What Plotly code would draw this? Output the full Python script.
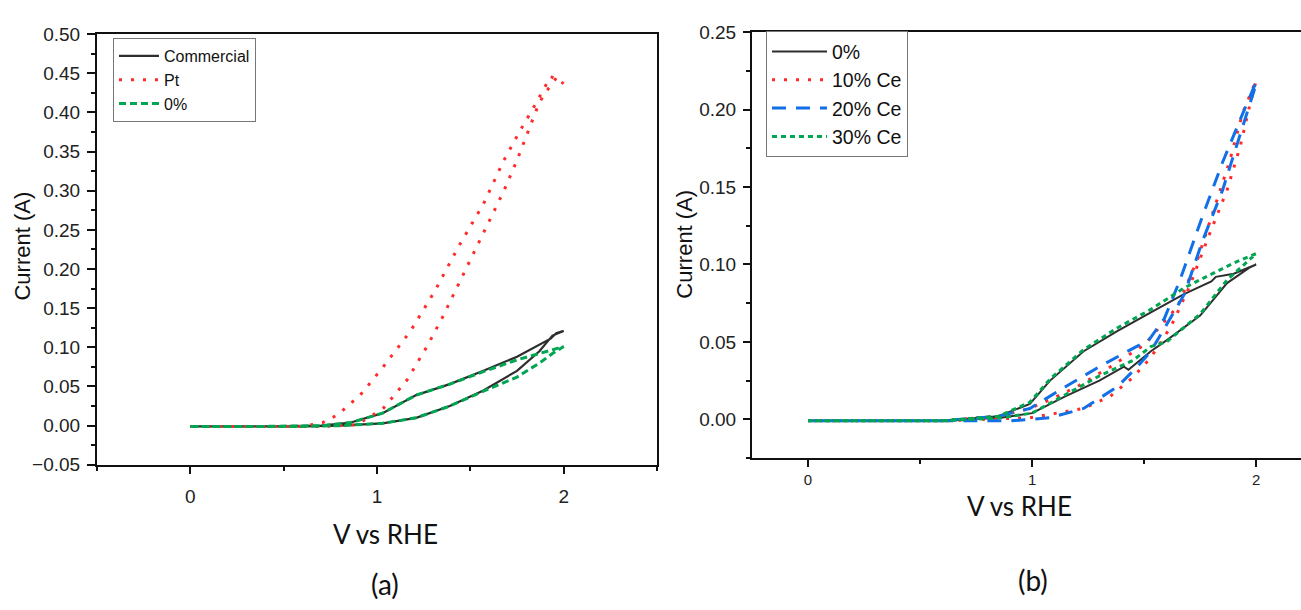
import plotly.graph_objects as go

# ---------------- Panel (a) data ----------------
# Commercial: forward (lower) branch then reverse (upper) branch
comm_fwd_v = [0.0, 0.3, 0.6, 0.8, 0.9, 1.03, 1.21, 1.39, 1.57, 1.75, 1.87, 1.94, 2.0]
comm_fwd_i = [-0.001, -0.001, -0.001, 0.0, 0.001, 0.003, 0.010, 0.025, 0.045, 0.070, 0.095, 0.115, 0.121]
comm_rev_v = [2.0, 1.96, 1.93, 1.75, 1.57, 1.39, 1.21, 1.03, 0.86, 0.7, 0.4, 0.0]
comm_rev_i = [0.121, 0.118, 0.111, 0.088, 0.070, 0.053, 0.039, 0.016, 0.004, 0.0, -0.001, -0.001]

# Pt: upper (left) branch then lower (right) branch
pt_up_v = [0.0, 0.3, 0.6, 0.71, 0.79, 0.91, 1.03, 1.18, 1.31, 1.44, 1.57, 1.68, 1.76, 1.85, 1.93, 2.0]
pt_up_i = [-0.001, -0.001, -0.001, 0.004, 0.014, 0.039, 0.074, 0.121, 0.172, 0.230, 0.283, 0.339, 0.374, 0.411, 0.446, 0.437]
pt_lo_v = [1.96, 1.92, 1.87, 1.81, 1.75, 1.68, 1.57, 1.46, 1.35, 1.27, 1.16, 1.03, 0.89, 0.7, 0.4, 0.0]
pt_lo_i = [0.444, 0.431, 0.413, 0.376, 0.339, 0.300, 0.246, 0.191, 0.138, 0.102, 0.058, 0.021, 0.001, -0.001, -0.001, -0.001]

# 0%: forward (lower) branch then reverse (upper) branch
zero_a_fwd_v = [0.0, 0.3, 0.6, 0.8, 0.9, 1.03, 1.21, 1.39, 1.57, 1.75, 1.87, 1.94, 2.0]
zero_a_fwd_i = [-0.001, -0.001, -0.001, 0.0, 0.001, 0.003, 0.010, 0.025, 0.044, 0.062, 0.080, 0.092, 0.101]
zero_a_rev_v = [2.0, 1.93, 1.75, 1.57, 1.39, 1.21, 1.03, 0.86, 0.7, 0.4, 0.0]
zero_a_rev_i = [0.101, 0.096, 0.084, 0.069, 0.053, 0.039, 0.016, 0.004, 0.0, -0.001, -0.001]

# ---------------- Panel (b) data ----------------
zero_b_fwd_v = [0.0, 0.3, 0.6, 0.86, 1.0, 1.15, 1.30, 1.41, 1.43, 1.53, 1.60, 1.75, 1.87, 1.97, 2.0]
zero_b_fwd_i = [-0.001, -0.001, -0.001, 0.001, 0.004, 0.015, 0.025, 0.034, 0.032, 0.044, 0.051, 0.067, 0.088, 0.098, 0.100]
zero_b_rev_v = [2.0, 1.90, 1.82, 1.80, 1.68, 1.53, 1.38, 1.23, 1.08, 0.99, 0.85, 0.6, 0.0]
zero_b_rev_i = [0.100, 0.094, 0.092, 0.089, 0.081, 0.069, 0.057, 0.044, 0.025, 0.010, 0.002, -0.001, -0.001]

ce10_up_v = [0.0, 0.3, 0.6, 0.85, 0.99, 1.10, 1.20, 1.35, 1.50, 1.65, 1.74, 1.81, 1.88, 1.94, 2.0]
ce10_up_i = [-0.001, -0.001, -0.001, 0.002, 0.007, 0.014, 0.021, 0.034, 0.048, 0.073, 0.104, 0.135, 0.166, 0.198, 0.219]
ce10_lo_v = [1.97, 1.93, 1.87, 1.79, 1.70, 1.62, 1.53, 1.45, 1.35, 1.23, 0.99, 0.6, 0.0]
ce10_lo_i = [0.202, 0.177, 0.148, 0.119, 0.085, 0.060, 0.040, 0.027, 0.015, 0.007, 0.001, -0.001, -0.001]

ce20_up_v = [0.0, 0.3, 0.6, 0.85, 0.99, 1.16, 1.30, 1.44, 1.52, 1.59, 1.66, 1.76, 1.85, 1.93, 2.0]
ce20_up_i = [-0.001, -0.001, -0.001, 0.002, 0.007, 0.022, 0.034, 0.045, 0.051, 0.065, 0.090, 0.131, 0.166, 0.194, 0.218]
ce20_lo_v = [1.99, 1.93, 1.85, 1.76, 1.68, 1.60, 1.53, 1.47, 1.38, 1.23, 1.08, 0.9, 0.6, 0.0]
ce20_lo_i = [0.212, 0.185, 0.148, 0.115, 0.081, 0.061, 0.044, 0.034, 0.021, 0.007, 0.001, -0.001, -0.001, -0.001]

ce30_fwd_v = [0.0, 0.3, 0.6, 0.86, 1.0, 1.15, 1.30, 1.45, 1.53, 1.60, 1.75, 1.87, 1.97, 2.0]
ce30_fwd_i = [-0.001, -0.001, -0.001, 0.001, 0.004, 0.016, 0.028, 0.038, 0.047, 0.050, 0.068, 0.090, 0.103, 0.107]
ce30_rev_v = [2.0, 1.90, 1.82, 1.68, 1.53, 1.38, 1.23, 1.08, 0.99, 0.85, 0.6, 0.0]
ce30_rev_i = [0.107, 0.101, 0.095, 0.085, 0.071, 0.059, 0.045, 0.026, 0.011, 0.002, -0.001, -0.001]

x_ticks = [0, 1, 2]

BLACK = "#2e2e2e"
RED = "#ff2b2b"
GREEN = "#00a651"
BLUE = "#1170e8"
TICKFONT = dict(family="Liberation Sans, Arial, sans-serif", size=19, color="#222")

fig = go.Figure()

# panel a traces
fig.add_trace(go.Scatter(x=comm_fwd_v + comm_rev_v, y=comm_fwd_i + comm_rev_i, mode="lines",
                         name="Commercial", line=dict(color=BLACK, width=2.2),
                         xaxis="x", yaxis="y", legend="legend"))
fig.add_trace(go.Scatter(x=pt_up_v + pt_lo_v, y=pt_up_i + pt_lo_i, mode="lines",
                         name="Pt", line=dict(color=RED, width=3, dash="3px,9px"),
                         xaxis="x", yaxis="y", legend="legend"))
fig.add_trace(go.Scatter(x=zero_a_fwd_v + zero_a_rev_v, y=zero_a_fwd_i + zero_a_rev_i, mode="lines",
                         name="0%", line=dict(color=GREEN, width=3, dash="7px,4px"),
                         xaxis="x", yaxis="y", legend="legend"))

# panel b traces
fig.add_trace(go.Scatter(x=zero_b_fwd_v + zero_b_rev_v, y=zero_b_fwd_i + zero_b_rev_i, mode="lines",
                         name="0%", line=dict(color=BLACK, width=2),
                         xaxis="x2", yaxis="y2", legend="legend2"))
fig.add_trace(go.Scatter(x=ce10_up_v + ce10_lo_v, y=ce10_up_i + ce10_lo_i, mode="lines",
                         name="10% Ce", line=dict(color=RED, width=3, dash="3px,9px"),
                         xaxis="x2", yaxis="y2", legend="legend2"))
fig.add_trace(go.Scatter(x=ce20_up_v + ce20_lo_v, y=ce20_up_i + ce20_lo_i, mode="lines",
                         name="20% Ce", line=dict(color=BLUE, width=3, dash="14px,10px"),
                         xaxis="x2", yaxis="y2", legend="legend2"))
fig.add_trace(go.Scatter(x=ce30_fwd_v + ce30_rev_v, y=ce30_fwd_i + ce30_rev_i, mode="lines",
                         name="30% Ce", line=dict(color=GREEN, width=3, dash="5px,4px"),
                         xaxis="x2", yaxis="y2", legend="legend2"))

W, H = 1301, 610


def px_x(p):
    return p / W


def px_y(p):
    return 1 - p / H


axis_common = dict(showline=True, linecolor="#111", linewidth=2, ticks="outside",
                   tickcolor="#111", tickwidth=1.5, showgrid=False, zeroline=False,
                   tickfont=TICKFONT)

fig.update_layout(
    width=W, height=H,
    margin=dict(l=0, r=0, t=0, b=0),
    paper_bgcolor="white", plot_bgcolor="white",
    xaxis=dict(axis_common, domain=[px_x(97), px_x(657)], range=[-0.5, 2.5], anchor="y",
               tickvals=x_ticks, ticklen=7, mirror=True, ticklabelstandoff=6,
               minor=dict(ticks="outside", dtick=0.5, ticklen=4, tickcolor="#111", tickwidth=1.5)),
    yaxis=dict(axis_common, domain=[px_y(471), px_y(25)], range=[-0.05, 0.5], anchor="x",
               tick0=0, dtick=0.05, tickformat=".2f", ticklen=8, mirror=True, ticklabelstandoff=3,
               minor=dict(ticks="outside", dtick=0.025, ticklen=4, tickcolor="#111", tickwidth=1.5)),
    xaxis2=dict(axis_common, domain=[px_x(752), 1.0], range=[-0.25, 2.2], anchor="y2",
                tickvals=x_ticks, ticklen=7, mirror=True,
                tickfont=dict(TICKFONT, size=15),
                minor=dict(ticks="outside", dtick=0.5, ticklen=4, tickcolor="#111", tickwidth=1.5)),
    yaxis2=dict(axis_common, domain=[px_y(464), px_y(23)], range=[-0.025, 0.25], anchor="x2",
                tick0=0, dtick=0.05, tickformat=".2f", ticklen=7, mirror=False, ticklabelstandoff=3,
                minor=dict(ticks="outside", dtick=0.025, ticklen=4, tickcolor="#111", tickwidth=1.5)),
    legend=dict(x=px_x(113), y=px_y(29), xanchor="left", yanchor="top",
                bgcolor="white", bordercolor="#777", borderwidth=1,
                font=dict(family="Liberation Sans, Arial, sans-serif", size=16, color="#111"),
                itemwidth=40, tracegroupgap=0),
    legend2=dict(x=px_x(766), y=px_y(22), xanchor="left", yanchor="top",
                 bgcolor="white", bordercolor="#777", borderwidth=1,
                 font=dict(family="Liberation Sans, Arial, sans-serif", size=19.5, color="#111"),
                 itemwidth=55, tracegroupgap=0),
    showlegend=True,
)

title_font = dict(family="Liberation Sans, Arial, sans-serif", size=22, color="#111")
label_font = dict(family="Lato, Open Sans, sans-serif", size=26, color="#111")
panel_font = dict(family="Lato, Open Sans, sans-serif", size=28, color="#111")

annotations = [
    dict(text="Current (A)", x=px_x(23), y=px_y(245), textangle=-90, font=title_font),
    dict(text="Current (A)", x=px_x(685), y=px_y(243), textangle=-90, font=title_font),
    dict(text="V vs RHE", x=px_x(385), y=px_y(543), font=label_font),
    dict(text="V vs RHE", x=px_x(1019), y=px_y(514), font=label_font),
    dict(text="(a)", x=px_x(385), y=px_y(594), font=panel_font),
    dict(text="(b)", x=px_x(1033), y=px_y(590), font=panel_font),
]
for a in annotations:
    a.update(xref="paper", yref="paper", xanchor="center", yanchor="middle", showarrow=False)
fig.update_layout(annotations=annotations)

fig.write_html("out.html")
